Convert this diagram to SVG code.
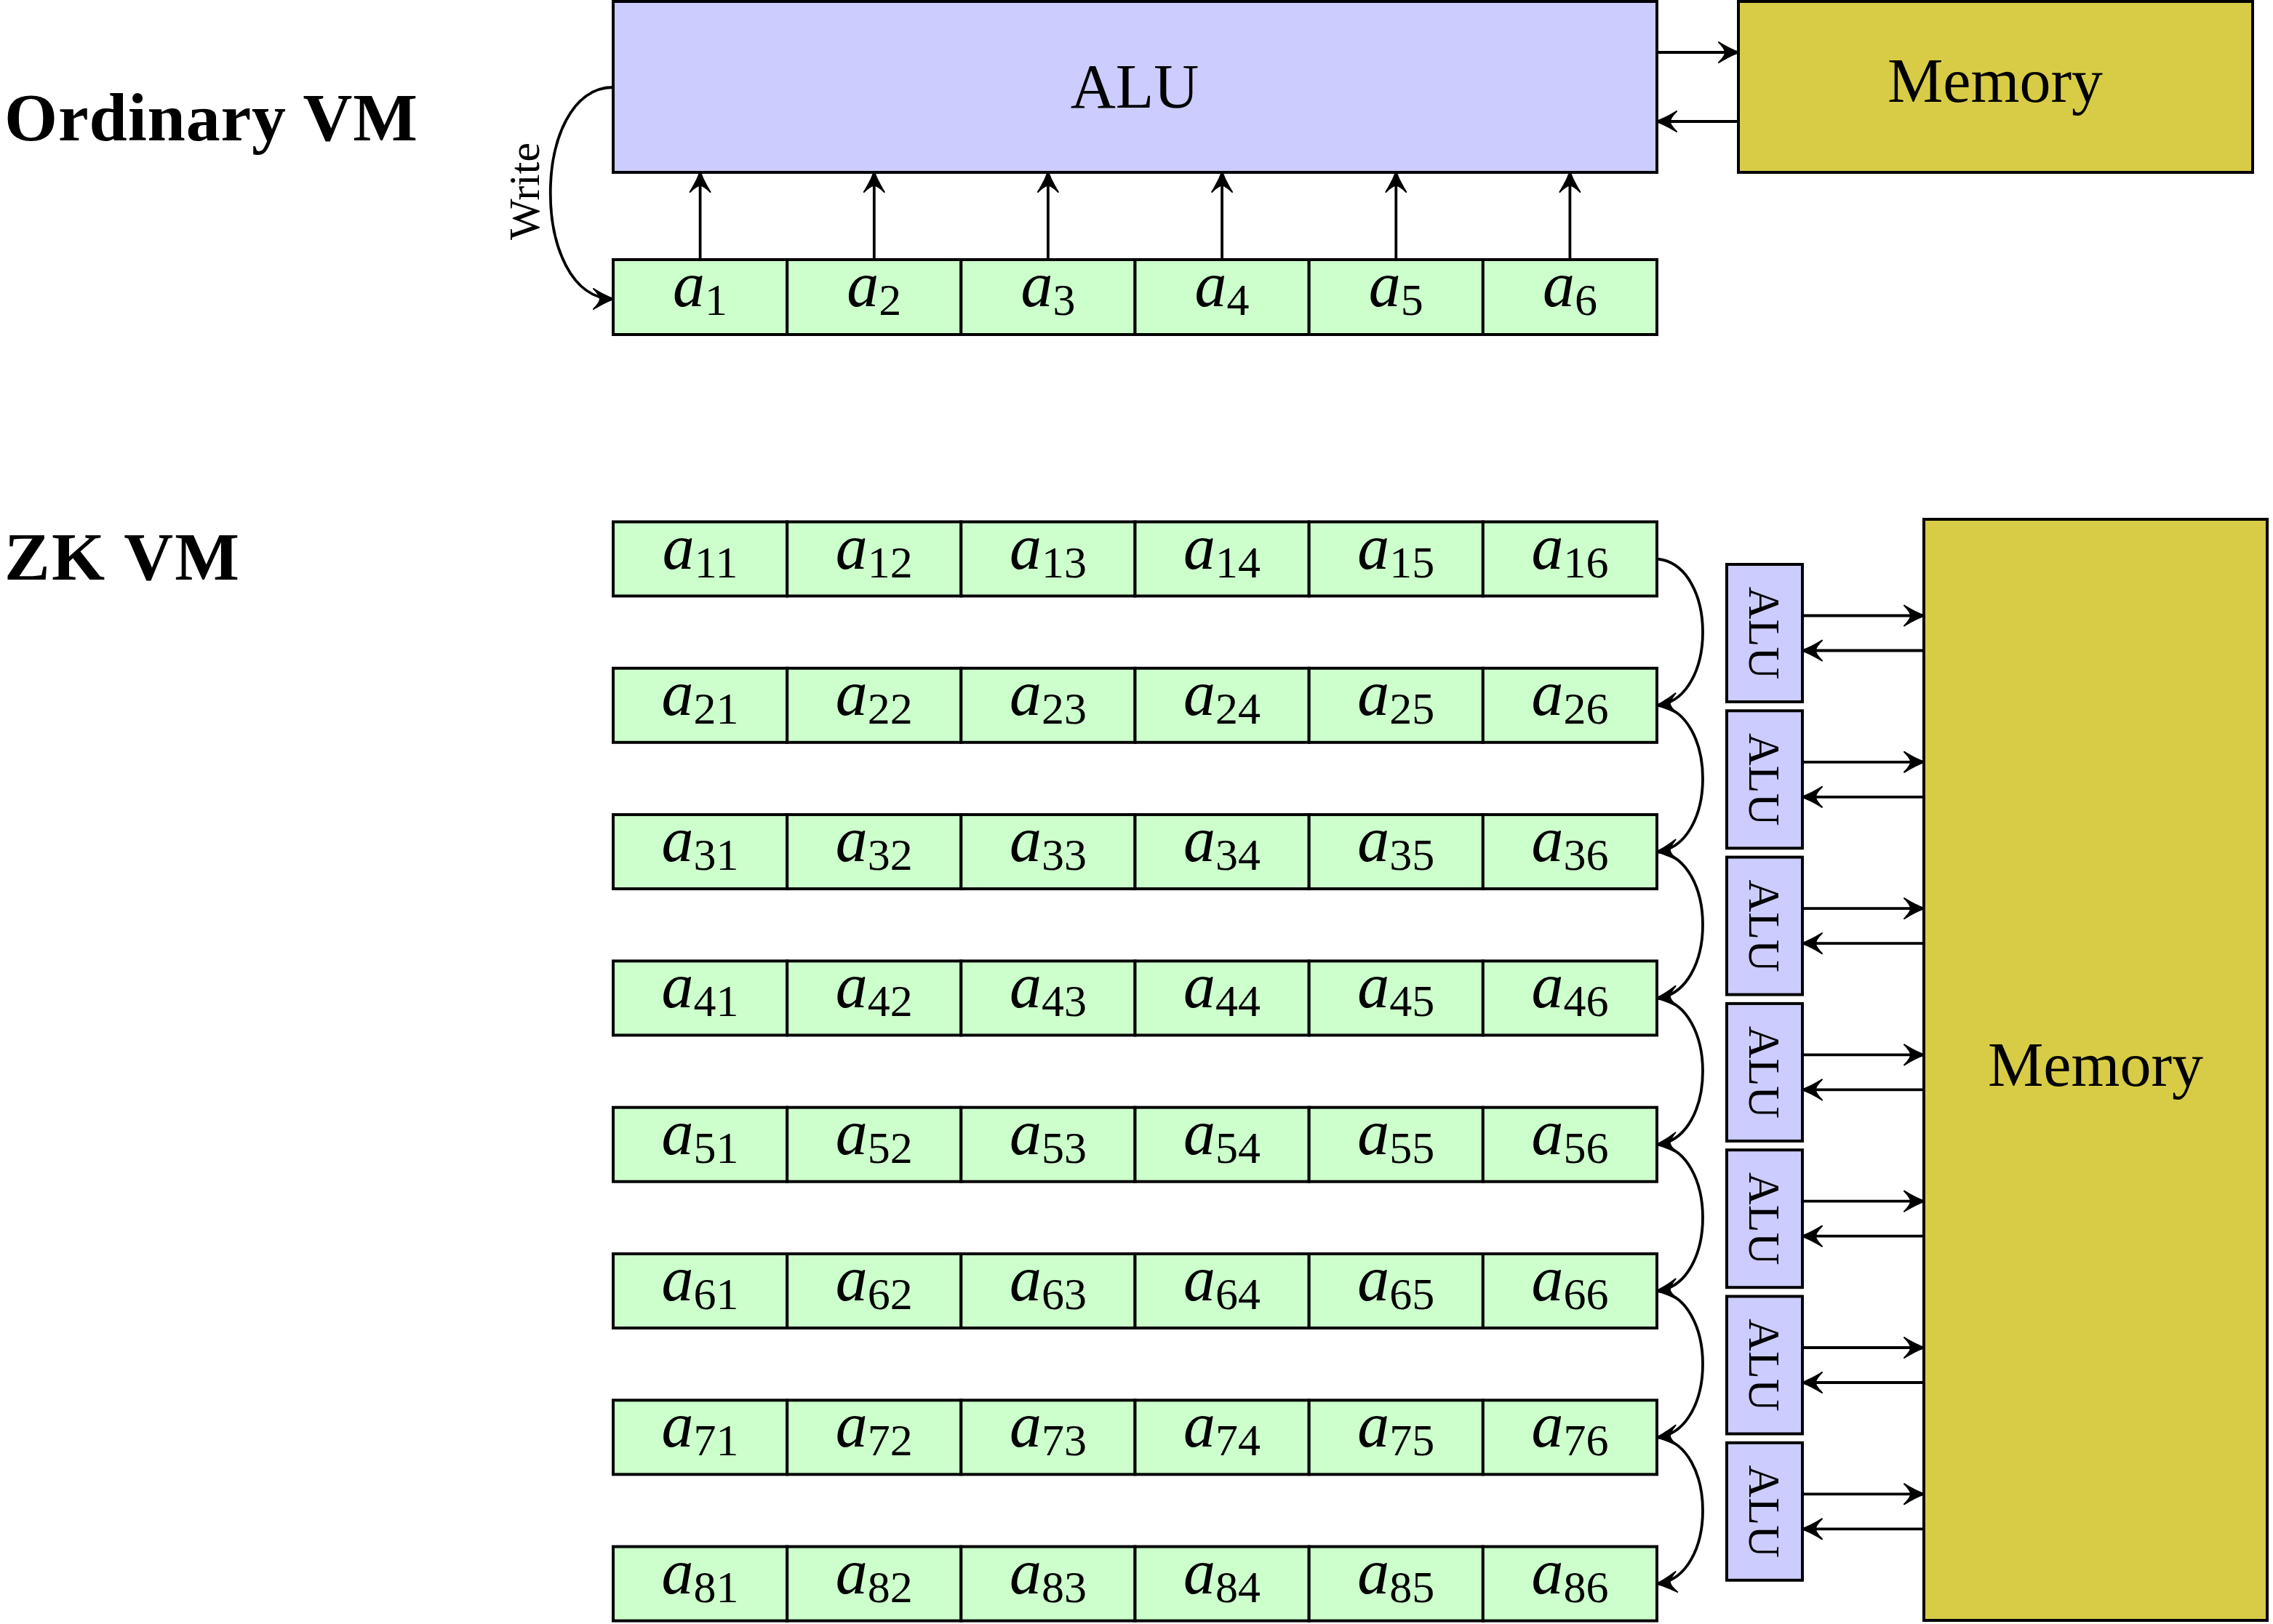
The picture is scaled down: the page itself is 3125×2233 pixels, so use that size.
<svg xmlns="http://www.w3.org/2000/svg" width="3125" height="2233" viewBox="0 0 3125 2233">
<style>
.alu{fill:#ccccff;stroke:#000;stroke-width:4}
.reg{fill:#ccffcc;stroke:#000;stroke-width:4}
.mem{fill:#d8cc46;stroke:#000;stroke-width:4}
.t{font-family:"Liberation Serif","Times New Roman",serif;fill:#000}
.lbl{font-size:86px;text-anchor:middle}
.ttl{font-size:94px;font-weight:bold}
.a{font-size:88px;text-anchor:middle}
.a .v{font-style:italic}
.a .s{font-size:62px}
.sm{font-size:62px;text-anchor:middle}
.wr{font-size:60px;text-anchor:middle}
.c{fill:none;stroke:#000;stroke-width:3.8;marker-end:url(#arr)}
</style>
<defs>
<marker id="arr" markerUnits="userSpaceOnUse" markerWidth="44" markerHeight="44" viewBox="-34 -22 38 44" refX="0" refY="0" orient="auto" overflow="visible">
<path d="M1,0 Q-12,-4.5 -27,-14 Q-18,-5 -18,0 Q-18,5 -27,14 Q-12,4.5 1,0 Z" fill="#000" stroke="#000" stroke-width="2" stroke-linejoin="round"/>
</marker>
</defs>

<g id="titles">
<text class="t ttl" x="6" y="193" textLength="568" lengthAdjust="spacing">Ordinary VM</text>
<text class="t ttl" x="6" y="797" textLength="323" lengthAdjust="spacing">ZK VM</text>
</g>

<!-- Ordinary VM -->
<g id="alu-top"><rect class="alu" x="843" y="2" width="1435" height="235"/><text class="t lbl" x="1560" y="148">ALU</text></g>
<g id="memory-top"><rect class="mem" x="2390" y="2" width="707" height="235"/><text class="t lbl" x="2743" y="140">Memory</text></g>
<g id="regs-top">
<g id="a1"><rect class="reg" x="843" y="357" width="239.2" height="103"/><text class="t a" x="962.6" y="421"><tspan class="v">a</tspan><tspan class="s" dy="12">1</tspan></text></g>
<g id="a2"><rect class="reg" x="1082.2" y="357" width="239.2" height="103"/><text class="t a" x="1201.8" y="421"><tspan class="v">a</tspan><tspan class="s" dy="12">2</tspan></text></g>
<g id="a3"><rect class="reg" x="1321.3" y="357" width="239.2" height="103"/><text class="t a" x="1440.9" y="421"><tspan class="v">a</tspan><tspan class="s" dy="12">3</tspan></text></g>
<g id="a4"><rect class="reg" x="1560.5" y="357" width="239.2" height="103"/><text class="t a" x="1680.1" y="421"><tspan class="v">a</tspan><tspan class="s" dy="12">4</tspan></text></g>
<g id="a5"><rect class="reg" x="1799.7" y="357" width="239.2" height="103"/><text class="t a" x="1919.3" y="421"><tspan class="v">a</tspan><tspan class="s" dy="12">5</tspan></text></g>
<g id="a6"><rect class="reg" x="2038.8" y="357" width="239.2" height="103"/><text class="t a" x="2158.4" y="421"><tspan class="v">a</tspan><tspan class="s" dy="12">6</tspan></text></g>
</g>

<!-- ZK VM registers -->
<g id="regs-zk">
<g id="row1">
<rect class="reg" x="843" y="717.5" width="239.2" height="102"/><text class="t a" x="962.6" y="781.5"><tspan class="v">a</tspan><tspan class="s" dy="12">11</tspan></text>
<rect class="reg" x="1082.2" y="717.5" width="239.2" height="102"/><text class="t a" x="1201.8" y="781.5"><tspan class="v">a</tspan><tspan class="s" dy="12">12</tspan></text>
<rect class="reg" x="1321.3" y="717.5" width="239.2" height="102"/><text class="t a" x="1440.9" y="781.5"><tspan class="v">a</tspan><tspan class="s" dy="12">13</tspan></text>
<rect class="reg" x="1560.5" y="717.5" width="239.2" height="102"/><text class="t a" x="1680.1" y="781.5"><tspan class="v">a</tspan><tspan class="s" dy="12">14</tspan></text>
<rect class="reg" x="1799.7" y="717.5" width="239.2" height="102"/><text class="t a" x="1919.3" y="781.5"><tspan class="v">a</tspan><tspan class="s" dy="12">15</tspan></text>
<rect class="reg" x="2038.8" y="717.5" width="239.2" height="102"/><text class="t a" x="2158.4" y="781.5"><tspan class="v">a</tspan><tspan class="s" dy="12">16</tspan></text>
</g>
<g id="row2">
<rect class="reg" x="843" y="918.8" width="239.2" height="102"/><text class="t a" x="962.6" y="982.8"><tspan class="v">a</tspan><tspan class="s" dy="12">21</tspan></text>
<rect class="reg" x="1082.2" y="918.8" width="239.2" height="102"/><text class="t a" x="1201.8" y="982.8"><tspan class="v">a</tspan><tspan class="s" dy="12">22</tspan></text>
<rect class="reg" x="1321.3" y="918.8" width="239.2" height="102"/><text class="t a" x="1440.9" y="982.8"><tspan class="v">a</tspan><tspan class="s" dy="12">23</tspan></text>
<rect class="reg" x="1560.5" y="918.8" width="239.2" height="102"/><text class="t a" x="1680.1" y="982.8"><tspan class="v">a</tspan><tspan class="s" dy="12">24</tspan></text>
<rect class="reg" x="1799.7" y="918.8" width="239.2" height="102"/><text class="t a" x="1919.3" y="982.8"><tspan class="v">a</tspan><tspan class="s" dy="12">25</tspan></text>
<rect class="reg" x="2038.8" y="918.8" width="239.2" height="102"/><text class="t a" x="2158.4" y="982.8"><tspan class="v">a</tspan><tspan class="s" dy="12">26</tspan></text>
</g>
<g id="row3">
<rect class="reg" x="843" y="1120.1" width="239.2" height="102"/><text class="t a" x="962.6" y="1184.1"><tspan class="v">a</tspan><tspan class="s" dy="12">31</tspan></text>
<rect class="reg" x="1082.2" y="1120.1" width="239.2" height="102"/><text class="t a" x="1201.8" y="1184.1"><tspan class="v">a</tspan><tspan class="s" dy="12">32</tspan></text>
<rect class="reg" x="1321.3" y="1120.1" width="239.2" height="102"/><text class="t a" x="1440.9" y="1184.1"><tspan class="v">a</tspan><tspan class="s" dy="12">33</tspan></text>
<rect class="reg" x="1560.5" y="1120.1" width="239.2" height="102"/><text class="t a" x="1680.1" y="1184.1"><tspan class="v">a</tspan><tspan class="s" dy="12">34</tspan></text>
<rect class="reg" x="1799.7" y="1120.1" width="239.2" height="102"/><text class="t a" x="1919.3" y="1184.1"><tspan class="v">a</tspan><tspan class="s" dy="12">35</tspan></text>
<rect class="reg" x="2038.8" y="1120.1" width="239.2" height="102"/><text class="t a" x="2158.4" y="1184.1"><tspan class="v">a</tspan><tspan class="s" dy="12">36</tspan></text>
</g>
<g id="row4">
<rect class="reg" x="843" y="1321.4" width="239.2" height="102"/><text class="t a" x="962.6" y="1385.4"><tspan class="v">a</tspan><tspan class="s" dy="12">41</tspan></text>
<rect class="reg" x="1082.2" y="1321.4" width="239.2" height="102"/><text class="t a" x="1201.8" y="1385.4"><tspan class="v">a</tspan><tspan class="s" dy="12">42</tspan></text>
<rect class="reg" x="1321.3" y="1321.4" width="239.2" height="102"/><text class="t a" x="1440.9" y="1385.4"><tspan class="v">a</tspan><tspan class="s" dy="12">43</tspan></text>
<rect class="reg" x="1560.5" y="1321.4" width="239.2" height="102"/><text class="t a" x="1680.1" y="1385.4"><tspan class="v">a</tspan><tspan class="s" dy="12">44</tspan></text>
<rect class="reg" x="1799.7" y="1321.4" width="239.2" height="102"/><text class="t a" x="1919.3" y="1385.4"><tspan class="v">a</tspan><tspan class="s" dy="12">45</tspan></text>
<rect class="reg" x="2038.8" y="1321.4" width="239.2" height="102"/><text class="t a" x="2158.4" y="1385.4"><tspan class="v">a</tspan><tspan class="s" dy="12">46</tspan></text>
</g>
<g id="row5">
<rect class="reg" x="843" y="1522.7" width="239.2" height="102"/><text class="t a" x="962.6" y="1586.7"><tspan class="v">a</tspan><tspan class="s" dy="12">51</tspan></text>
<rect class="reg" x="1082.2" y="1522.7" width="239.2" height="102"/><text class="t a" x="1201.8" y="1586.7"><tspan class="v">a</tspan><tspan class="s" dy="12">52</tspan></text>
<rect class="reg" x="1321.3" y="1522.7" width="239.2" height="102"/><text class="t a" x="1440.9" y="1586.7"><tspan class="v">a</tspan><tspan class="s" dy="12">53</tspan></text>
<rect class="reg" x="1560.5" y="1522.7" width="239.2" height="102"/><text class="t a" x="1680.1" y="1586.7"><tspan class="v">a</tspan><tspan class="s" dy="12">54</tspan></text>
<rect class="reg" x="1799.7" y="1522.7" width="239.2" height="102"/><text class="t a" x="1919.3" y="1586.7"><tspan class="v">a</tspan><tspan class="s" dy="12">55</tspan></text>
<rect class="reg" x="2038.8" y="1522.7" width="239.2" height="102"/><text class="t a" x="2158.4" y="1586.7"><tspan class="v">a</tspan><tspan class="s" dy="12">56</tspan></text>
</g>
<g id="row6">
<rect class="reg" x="843" y="1724" width="239.2" height="102"/><text class="t a" x="962.6" y="1788"><tspan class="v">a</tspan><tspan class="s" dy="12">61</tspan></text>
<rect class="reg" x="1082.2" y="1724" width="239.2" height="102"/><text class="t a" x="1201.8" y="1788"><tspan class="v">a</tspan><tspan class="s" dy="12">62</tspan></text>
<rect class="reg" x="1321.3" y="1724" width="239.2" height="102"/><text class="t a" x="1440.9" y="1788"><tspan class="v">a</tspan><tspan class="s" dy="12">63</tspan></text>
<rect class="reg" x="1560.5" y="1724" width="239.2" height="102"/><text class="t a" x="1680.1" y="1788"><tspan class="v">a</tspan><tspan class="s" dy="12">64</tspan></text>
<rect class="reg" x="1799.7" y="1724" width="239.2" height="102"/><text class="t a" x="1919.3" y="1788"><tspan class="v">a</tspan><tspan class="s" dy="12">65</tspan></text>
<rect class="reg" x="2038.8" y="1724" width="239.2" height="102"/><text class="t a" x="2158.4" y="1788"><tspan class="v">a</tspan><tspan class="s" dy="12">66</tspan></text>
</g>
<g id="row7">
<rect class="reg" x="843" y="1925.3" width="239.2" height="102"/><text class="t a" x="962.6" y="1989.3"><tspan class="v">a</tspan><tspan class="s" dy="12">71</tspan></text>
<rect class="reg" x="1082.2" y="1925.3" width="239.2" height="102"/><text class="t a" x="1201.8" y="1989.3"><tspan class="v">a</tspan><tspan class="s" dy="12">72</tspan></text>
<rect class="reg" x="1321.3" y="1925.3" width="239.2" height="102"/><text class="t a" x="1440.9" y="1989.3"><tspan class="v">a</tspan><tspan class="s" dy="12">73</tspan></text>
<rect class="reg" x="1560.5" y="1925.3" width="239.2" height="102"/><text class="t a" x="1680.1" y="1989.3"><tspan class="v">a</tspan><tspan class="s" dy="12">74</tspan></text>
<rect class="reg" x="1799.7" y="1925.3" width="239.2" height="102"/><text class="t a" x="1919.3" y="1989.3"><tspan class="v">a</tspan><tspan class="s" dy="12">75</tspan></text>
<rect class="reg" x="2038.8" y="1925.3" width="239.2" height="102"/><text class="t a" x="2158.4" y="1989.3"><tspan class="v">a</tspan><tspan class="s" dy="12">76</tspan></text>
</g>
<g id="row8">
<rect class="reg" x="843" y="2126.6" width="239.2" height="102"/><text class="t a" x="962.6" y="2190.6"><tspan class="v">a</tspan><tspan class="s" dy="12">81</tspan></text>
<rect class="reg" x="1082.2" y="2126.6" width="239.2" height="102"/><text class="t a" x="1201.8" y="2190.6"><tspan class="v">a</tspan><tspan class="s" dy="12">82</tspan></text>
<rect class="reg" x="1321.3" y="2126.6" width="239.2" height="102"/><text class="t a" x="1440.9" y="2190.6"><tspan class="v">a</tspan><tspan class="s" dy="12">83</tspan></text>
<rect class="reg" x="1560.5" y="2126.6" width="239.2" height="102"/><text class="t a" x="1680.1" y="2190.6"><tspan class="v">a</tspan><tspan class="s" dy="12">84</tspan></text>
<rect class="reg" x="1799.7" y="2126.6" width="239.2" height="102"/><text class="t a" x="1919.3" y="2190.6"><tspan class="v">a</tspan><tspan class="s" dy="12">85</tspan></text>
<rect class="reg" x="2038.8" y="2126.6" width="239.2" height="102"/><text class="t a" x="2158.4" y="2190.6"><tspan class="v">a</tspan><tspan class="s" dy="12">86</tspan></text>
</g>
</g>

<!-- ZK ALUs -->
<g id="alus-zk">
<g id="alu1"><rect class="alu" x="2374" y="776" width="104" height="189"/><text class="t sm" transform="translate(2405,870.5) rotate(90)">ALU</text></g>
<g id="alu2"><rect class="alu" x="2374" y="977.3" width="104" height="189"/><text class="t sm" transform="translate(2405,1071.8) rotate(90)">ALU</text></g>
<g id="alu3"><rect class="alu" x="2374" y="1178.6" width="104" height="189"/><text class="t sm" transform="translate(2405,1273.1) rotate(90)">ALU</text></g>
<g id="alu4"><rect class="alu" x="2374" y="1379.9" width="104" height="189"/><text class="t sm" transform="translate(2405,1474.4) rotate(90)">ALU</text></g>
<g id="alu5"><rect class="alu" x="2374" y="1581.2" width="104" height="189"/><text class="t sm" transform="translate(2405,1675.7) rotate(90)">ALU</text></g>
<g id="alu6"><rect class="alu" x="2374" y="1782.5" width="104" height="189"/><text class="t sm" transform="translate(2405,1877) rotate(90)">ALU</text></g>
<g id="alu7"><rect class="alu" x="2374" y="1983.8" width="104" height="189"/><text class="t sm" transform="translate(2405,2078.3) rotate(90)">ALU</text></g>
</g>
<g id="memory-zk"><rect class="mem" x="2645" y="714" width="472" height="1514"/><text class="t lbl" x="2881" y="1493">Memory</text></g>

<g id="connectors">
<!-- ordinary VM -->
<path class="c" d="M843,120 C728,120 728,411 843,411"/>
<text class="t wr" transform="translate(741,263) rotate(-90)">Write</text>
<path class="c" d="M962.6,357 V237"/>
<path class="c" d="M1201.8,357 V237"/>
<path class="c" d="M1440.9,357 V237"/>
<path class="c" d="M1680.1,357 V237"/>
<path class="c" d="M1919.3,357 V237"/>
<path class="c" d="M2158.4,357 V237"/>
<path class="c" d="M2278,72 H2390"/>
<path class="c" d="M2390,167 H2278"/>
<!-- ZK chain -->
<path class="c" d="M2278,768.5 C2362,776.5 2362,961.8 2278,969.8"/>
<path class="c" d="M2278,969.8 C2362,977.8 2362,1163.1 2278,1171.1"/>
<path class="c" d="M2278,1171.1 C2362,1179.1 2362,1364.4 2278,1372.4"/>
<path class="c" d="M2278,1372.4 C2362,1380.4 2362,1565.7 2278,1573.7"/>
<path class="c" d="M2278,1573.7 C2362,1581.7 2362,1767 2278,1775"/>
<path class="c" d="M2278,1775 C2362,1783 2362,1968.3 2278,1976.3"/>
<path class="c" d="M2278,1976.3 C2362,1984.3 2362,2169.6 2278,2177.6"/>
<!-- ALU <-> Memory -->
<path class="c" d="M2478,846.5 H2645"/><path class="c" d="M2645,894.5 H2478"/>
<path class="c" d="M2478,1047.8 H2645"/><path class="c" d="M2645,1095.8 H2478"/>
<path class="c" d="M2478,1249.1 H2645"/><path class="c" d="M2645,1297.1 H2478"/>
<path class="c" d="M2478,1450.4 H2645"/><path class="c" d="M2645,1498.4 H2478"/>
<path class="c" d="M2478,1651.7 H2645"/><path class="c" d="M2645,1699.7 H2478"/>
<path class="c" d="M2478,1853 H2645"/><path class="c" d="M2645,1901 H2478"/>
<path class="c" d="M2478,2054.3 H2645"/><path class="c" d="M2645,2102.3 H2478"/>
</g>
</svg>
